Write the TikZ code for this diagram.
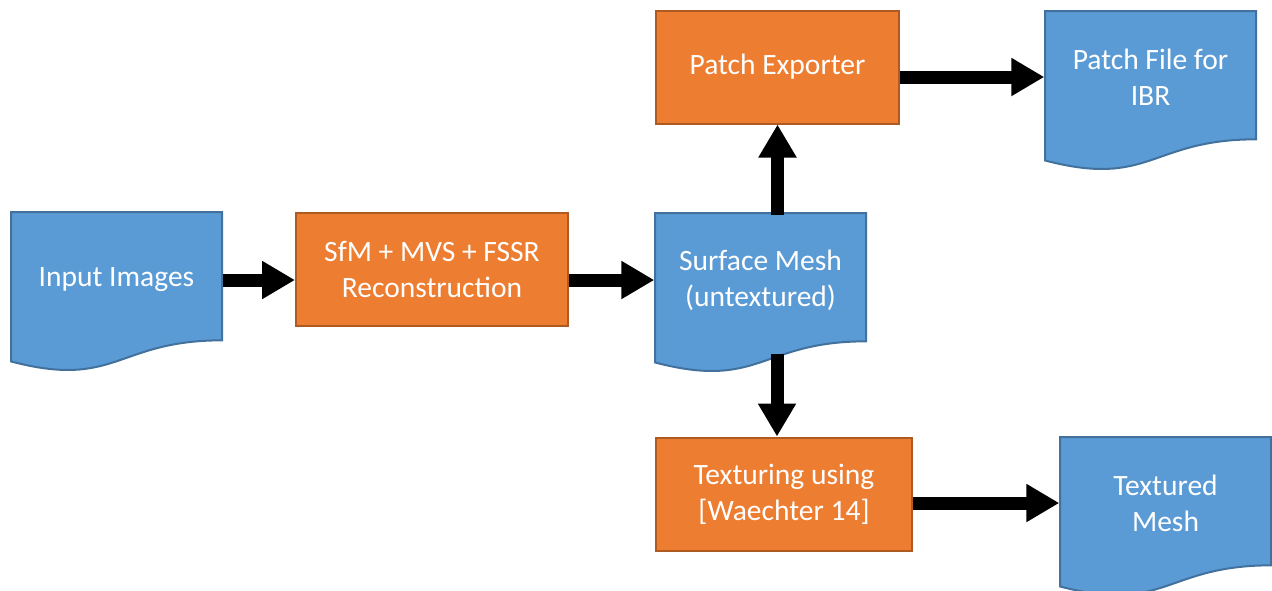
\documentclass[tikz,border=0pt]{standalone}
\usepackage{fontspec}
\setmainfont{Carlito}
\usepackage{tikz}
\usetikzlibrary{arrows.meta}

\definecolor{docfill}{HTML}{5B9BD5}
\definecolor{docline}{HTML}{41719C}
\definecolor{procfill}{HTML}{ED7D31}
\definecolor{procline}{HTML}{AE5A21}

% wavy document sheet, 211 x 160 px, top left corner given
\newcommand{\docsheet}[2]{%
  \filldraw[draw=docline, fill=docfill, line width=0.2mm, shift={(#1,#2)}, x=21.1mm, y=-16mm]
    (0,0) -- (1,0) -- (1,0.802) .. controls (0.5,0.802) and (0.5,1.1075) .. (0,0.934) -- cycle;}

\begin{document}
\begin{tikzpicture}[x=0.1mm, y=-0.1mm]
    \tikzstyle{doctext} = [rectangle, inner sep=0pt, minimum width=21.1mm, minimum height=12.8mm, text=white, align=center, font=\fontsize{8.4pt}{10.2pt}\selectfont]
    \tikzstyle{procbox} = [rectangle, draw=procline, fill=procfill, line width=0.2mm, inner sep=0pt, minimum height=11.3mm, text=white, align=center, font=\fontsize{8.4pt}{10.2pt}\selectfont]
    \tikzstyle{flowarrow} = [line width=1.3mm, -{Triangle[length=3.3mm, width=3.6mm]}]

    \useasboundingbox (0,0) rectangle (1272,590);

    % Documents
    \docsheet{11}{212}
    \node[doctext] (input) at (116.5,280) {Input Images};
    \docsheet{655}{213}
    \node[doctext] (surf) at (760.5,280) {Surface Mesh\\(untextured)};
    \docsheet{1045}{11}
    \node[doctext] (pfile) at (1150.5,77) {Patch File for\\IBR};
    \docsheet{1060}{437}
    \node[doctext] (tmesh) at (1165.5,503) {Textured\\Mesh};
    \coordinate (surfbase) at (777,354);

    % Processes
    \node[procbox, minimum width=27.2mm] (sfm) at (432,269.5) {SfM + MVS + FSSR\\Reconstruction};
    \node[procbox, minimum width=24.3mm] (pexp) at (777.5,67) {Patch Exporter};
    \node[procbox, minimum width=25.6mm] (texture) at (784,494) {Texturing using\\{[Waechter 14]}};

    % Arrows
    \draw[flowarrow] (input.east) -- (sfm.west |- input.east);
    \draw[flowarrow] (sfm.east |- surf.west) -- (surf.west);
    \draw[flowarrow] (surf.north -| pexp.south) -- (pexp.south);
    \draw[flowarrow] (surfbase) -- (texture.north -| surfbase);
    \draw[flowarrow] (pexp.east |- pfile.west) -- (pfile.west);
    \draw[flowarrow] (texture.east |- tmesh.west) -- (tmesh.west);
\end{tikzpicture}
\end{document}
